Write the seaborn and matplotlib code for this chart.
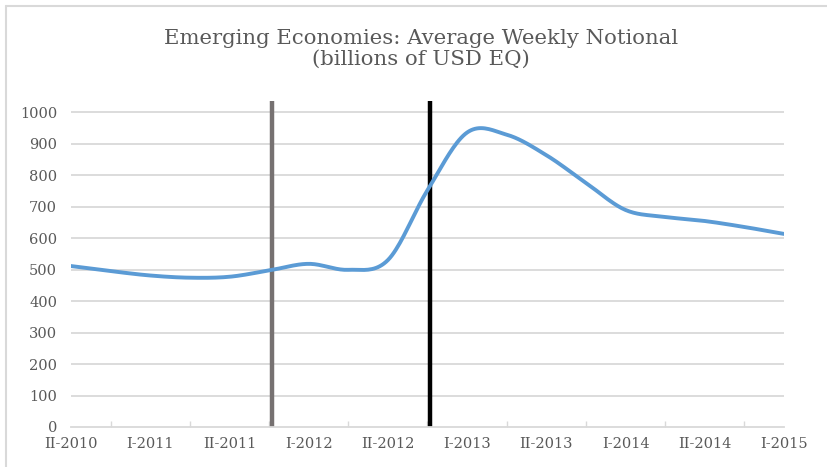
import numpy as np
import pandas as pd
import matplotlib
matplotlib.use('Agg')
import matplotlib.pyplot as plt
import seaborn as sns
from matplotlib.lines import Line2D

# quarterly readings, II-2010 .. I-2015 (billions of USD EQ)
quarter_idx = list(range(19))
notional = [511, 495, 481, 474, 477, 497, 518, 499, 530, 752, 935, 928,
            863, 775, 689, 667, 654, 635, 613]
tick_labels = ['II-2010', 'I-2011', 'II-2011', 'I-2012', 'II-2012',
               'I-2013', 'II-2013', 'I-2014', 'II-2014', 'I-2015']
event_pos = [5.07, 9.07]
event_colors = ['#767171', '#000000']
y_ticks = list(range(0, 1001, 100))


def catmull_rom(x, y, n=20):
    # smooth display of the line, like a spreadsheet "smoothed line"
    x = np.asarray(x, float)
    y = np.asarray(y, float)
    px = np.concatenate([[2 * x[0] - x[1]], x, [2 * x[-1] - x[-2]]])
    py = np.concatenate([[2 * y[0] - y[1]], y, [2 * y[-1] - y[-2]]])
    xs, ys = [], []
    t = np.linspace(0, 1, n, endpoint=False)
    for i in range(1, len(px) - 2):
        for arr, out in ((px, xs), (py, ys)):
            p0, p1, p2, p3 = arr[i - 1], arr[i], arr[i + 1], arr[i + 2]
            out.extend(0.5 * (2 * p1 + (-p0 + p2) * t
                              + (2 * p0 - 5 * p1 + 4 * p2 - p3) * t ** 2
                              + (-p0 + 3 * p1 - 3 * p2 + p3) * t ** 3))
    xs.append(x[-1])
    ys.append(y[-1])
    return np.array(xs), np.array(ys)


sns.set_theme(style='white')
plt.rcParams['font.family'] = ['DejaVu Serif']
text_col = '#595959'
grid_col = '#d9d9d9'

sx, sy = catmull_rom(quarter_idx, notional)
smooth = pd.DataFrame({'q': sx, 'v': sy})

fig = plt.figure(figsize=(8.28, 4.67), dpi=100)
ax = fig.add_axes([71 / 828, 40 / 467, 713 / 828, 326 / 467])

ax.set_ylim(0, 1035)
ax.set_xlim(0, 18)
for yv in y_ticks[1:]:
    ax.axhline(yv, color=grid_col, lw=1.3, zorder=0)

ax.vlines(event_pos, 0, 1035, colors=event_colors, lw=3.2, zorder=2)
sns.lineplot(data=smooth, x='q', y='v', ax=ax, color='#5b9bd5', lw=2.8,
             sort=False, zorder=3)

ax.set_yticks(y_ticks)
ax.set_yticklabels([str(v) for v in y_ticks])
ax.set_xticks(quarter_idx[::2])
ax.set_xticklabels(tick_labels)
ax.set_xticks(quarter_idx[1::2], minor=True)
ax.tick_params(axis='y', length=0, pad=10, labelsize=10.5, labelcolor=text_col)
ax.tick_params(axis='x', which='major', direction='inout', length=7, width=1,
               color=grid_col, pad=4, labelsize=10.5, labelcolor=text_col)
ax.tick_params(axis='x', which='minor', direction='in', length=4, width=1,
               color=grid_col, bottom=True)
ax.set_xlabel('')
ax.set_ylabel('')
for side in ['top', 'right', 'left']:
    ax.spines[side].set_visible(False)
ax.spines['bottom'].set_color(grid_col)
ax.spines['bottom'].set_linewidth(1.3)

fig.text(421 / 828, 1 - 29 / 467,
         'Emerging Economies: Average Weekly Notional\n(billions of USD EQ)',
         ha='center', va='top', fontsize=15.3, color=text_col, linespacing=1.15)

# chart area frame (top and left edges visible)
fig.add_artist(Line2D([6.5 / 828, 6.5 / 828], [0, 1 - 5.5 / 467],
                      transform=fig.transFigure, color=grid_col, lw=1.5))
fig.add_artist(Line2D([6.5 / 828, 1], [1 - 5.5 / 467, 1 - 5.5 / 467],
                      transform=fig.transFigure, color=grid_col, lw=1.5))

fig.savefig('out.png', dpi=100)
